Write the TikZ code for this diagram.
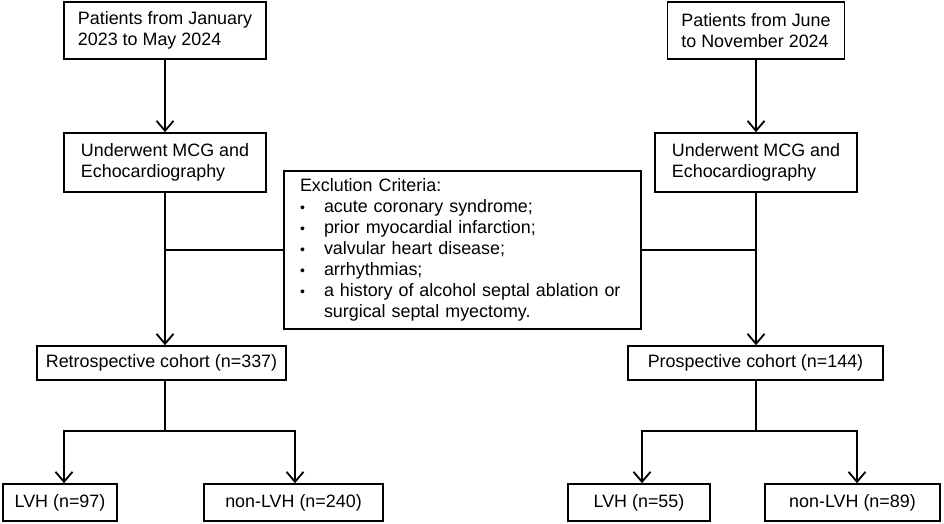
\documentclass[tikz,border=0pt]{standalone}
\usepackage{fontspec}
\setmainfont{Liberation Sans}
\usetikzlibrary{arrows.meta}
\newcommand{\critem}{\makebox[24pt][l]{\raisebox{0.5pt}{\fontsize{14}{14}\selectfont\textbullet}}}
\begin{document}
\begin{tikzpicture}[x=1pt,y=-1pt,
  box/.style={draw,line width=1.6pt,align=left,inner sep=0pt,font=\fontsize{17.9}{21}\selectfont},
  link/.style={line width=1.8pt},
  arr/.style={line width=1.8pt,-{Straight Barb[length=10pt,width=17pt]}}]
\useasboundingbox (0,0) rectangle (944,523);
\node[box,minimum width=202pt,minimum height=57pt] (pat1) at (165,30.5) {Patients from January\\2023 to May 2024};
\node[box,minimum width=202pt,minimum height=59pt] (mcg1) at (165,162.5) {Underwent MCG and\\Echocardiography};
\node[box,minimum width=177pt,minimum height=57pt] (pat2) at (756,30.5) {Patients from June\\to November 2024};
\node[box,minimum width=202pt,minimum height=59pt] (mcg2) at (756,162.5) {Underwent MCG and\\Echocardiography};
\node[box,minimum width=357pt,minimum height=158pt,text width=325pt] (crit) at (462.5,250) {Exclution Criteria:\\
\critem acute coronary syndrome;\\
\critem prior myocardial infarction;\\
\critem valvular heart disease;\\
\critem arrhythmias;\\
\critem a history of alcohol septal ablation or\\
\hspace*{24pt}surgical septal myectomy.};
\node[box,minimum width=249pt,minimum height=34pt] (retro) at (161.5,363) {Retrospective cohort (n=337)};
\node[box,minimum width=255pt,minimum height=34pt] (pros) at (755.5,363) {Prospective cohort (n=144)};
\node[box,minimum width=114pt,minimum height=37pt] (lvh1) at (60,502.5) {LVH (n=97)};
\node[box,minimum width=179pt,minimum height=37pt] (nlvh1) at (293.5,502.5) {non-LVH (n=240)};
\node[box,minimum width=142pt,minimum height=37pt] (lvh2) at (639,502.5) {LVH (n=55)};
\node[box,minimum width=175pt,minimum height=37pt] (nlvh2) at (852.5,502.5) {non-LVH (n=89)};
\coordinate (s1) at (165,431);
\coordinate (s2) at (756,431);
\draw[arr] (pat1) -- (mcg1);
\draw[arr] (mcg1.south) -- (mcg1.south |- retro.north);
\draw[arr] (pat2) -- (mcg2);
\draw[arr] (mcg2.south) -- (mcg2.south |- pros.north);
\draw[link] (crit.west) -- (crit.west -| mcg1.south);
\draw[link] (crit.east) -- (crit.east -| mcg2.south);
\draw[link] (mcg1.south |- retro.south) -- (s1);
\draw[link] (mcg2.south |- pros.south) -- (s2);
\draw[arr] (s1) -| ([xshift=4pt]lvh1.north);
\draw[arr] (s1) -| ([xshift=1.5pt]nlvh1.north);
\draw[arr] (s2) -| ([xshift=3pt]lvh2.north);
\draw[arr] (s2) -| ([xshift=4.5pt]nlvh2.north);
\end{tikzpicture}
\end{document}
